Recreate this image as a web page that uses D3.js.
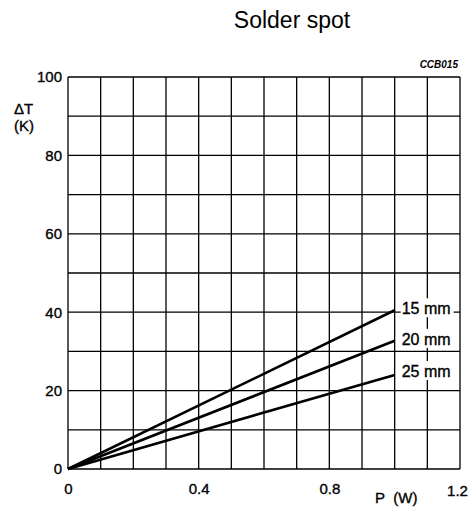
<!DOCTYPE html>
<html>
<head>
<meta charset="utf-8">
<script src="https://cdn.jsdelivr.net/npm/d3@7"></script>
<style>
body { margin: 0; background: #fff; }
text { font-family: "Liberation Sans", Arial, sans-serif; fill: #000; }
</style>
</head>
<body>
<script>
// data
var xTicks = [0, 0.4, 0.8, 1.2];
var yTicks = [0, 20, 40, 60, 80, 100];
var curves = ['15 mm', '20 mm', '25 mm'];
var powerP = [0, 1.0];
var rise15 = [0, 40.5];
var rise20 = [0, 32.7];
var rise25 = [0, 24];

var svg = d3.select('body')
	.append('svg')
	.attr('width', 475)
	.attr('height', 508);

// plot box (note: "top" is taken by window.top)
var pLeft = 68, pRight = 460, pTop = 77, pBottom = 469;

var x = d3.scaleLinear().domain([0, 1.2]).range([pLeft, pRight]);
var y = d3.scaleLinear().domain([0, 100]).range([pBottom, pTop]);

var heavy = function(sel, size){
	sel.style('font-size', size + 'px')
		.style('font-family', '"Liberation Sans", Arial, sans-serif')
		.style('stroke', '#000')
		.style('stroke-width', 0.35);
};

// title
svg.append('text')
	.attr('x', 292)
	.attr('y', 28)
	.attr('text-anchor', 'middle')
	.style('font-size', '23px')
	.text('Solder spot');

svg.append('text')
	.attr('x', pRight - 2)
	.attr('y', 68)
	.attr('text-anchor', 'end')
	.style('font-size', '10px')
	.style('font-style', 'italic')
	.style('font-weight', 'bold')
	.text('CCB015');

// grid
var grid = svg.append('g')
	.style('stroke', '#000')
	.style('stroke-width', 1.3);

grid.selectAll('.vline')
	.data(d3.range(0, 13))
	.enter()
	.append('line')
	.attr('x1', function(d){ return x(d / 10); })
	.attr('x2', function(d){ return x(d / 10); })
	.attr('y1', pTop)
	.attr('y2', pBottom);

grid.selectAll('.hline')
	.data(d3.range(0, 11))
	.enter()
	.append('line')
	.attr('y1', function(d){ return y(d * 10); })
	.attr('y2', function(d){ return y(d * 10); })
	.attr('x1', pLeft)
	.attr('x2', pRight);

// axes tick labels
var xAxis = d3.axisBottom(x).tickValues(xTicks).tickSize(0).tickPadding(14)
	.tickFormat(function(d){ return d === 0 ? '0' : d3.format('.1f')(d); });
var gx = svg.append('g').attr('transform', 'translate(0,' + pBottom + ')').call(xAxis);
gx.select('.domain').remove();
gx.selectAll('text').call(heavy, 15);
gx.selectAll('.tick')
	.filter(function(d){ return d === 1.2; })
	.select('text')
	.attr('dx', -3)
	.attr('dy', '0.85em');

var yAxis = d3.axisLeft(y).tickValues(yTicks).tickSize(0).tickPadding(6);
var gy = svg.append('g').attr('transform', 'translate(' + pLeft + ',0)').call(yAxis);
gy.select('.domain').remove();
gy.selectAll('text').call(heavy, 15);

// axis titles
svg.append('text').attr('x', 14).attr('y', 114).call(heavy, 15).text('\u0394T');
svg.append('text').attr('x', 14).attr('y', 131).call(heavy, 15).text('(K)');
svg.append('text').attr('x', 375).attr('y', 503).call(heavy, 15).text('P\u00a0\u00a0(W)');

// curves
var series = [rise15, rise20, rise25];
var line = d3.line()
	.x(function(d){ return x(d[0]); })
	.y(function(d){ return y(d[1]); });

svg.selectAll('.curve')
	.data(series)
	.enter()
	.append('path')
	.classed('curve', true)
	.attr('d', function(s){ return line(powerP.map(function(p, i){ return [p, s[i]]; })); })
	.style('fill', 'none')
	.style('stroke', '#000')
	.style('stroke-width', 2.6);

// curve labels with white background
var labelY = [rise15[1] + 0.5, rise20[1] + 0.5, rise25[1] + 1];
var labels = svg.selectAll('.lab')
	.data(curves)
	.enter()
	.append('g')
	.classed('lab', true)
	.attr('transform', function(d, i){ return 'translate(' + (x(powerP[1]) + 6) + ',' + y(labelY[i]) + ')'; });

labels.append('rect')
	.attr('x', 0)
	.attr('y', -10)
	.attr('width', 53)
	.attr('height', 19)
	.style('fill', '#fff');

labels.append('text')
	.attr('x', 1)
	.attr('y', 6)
	.call(heavy, 16)
	.text(function(d){ return d; });
</script>
</body>
</html>
